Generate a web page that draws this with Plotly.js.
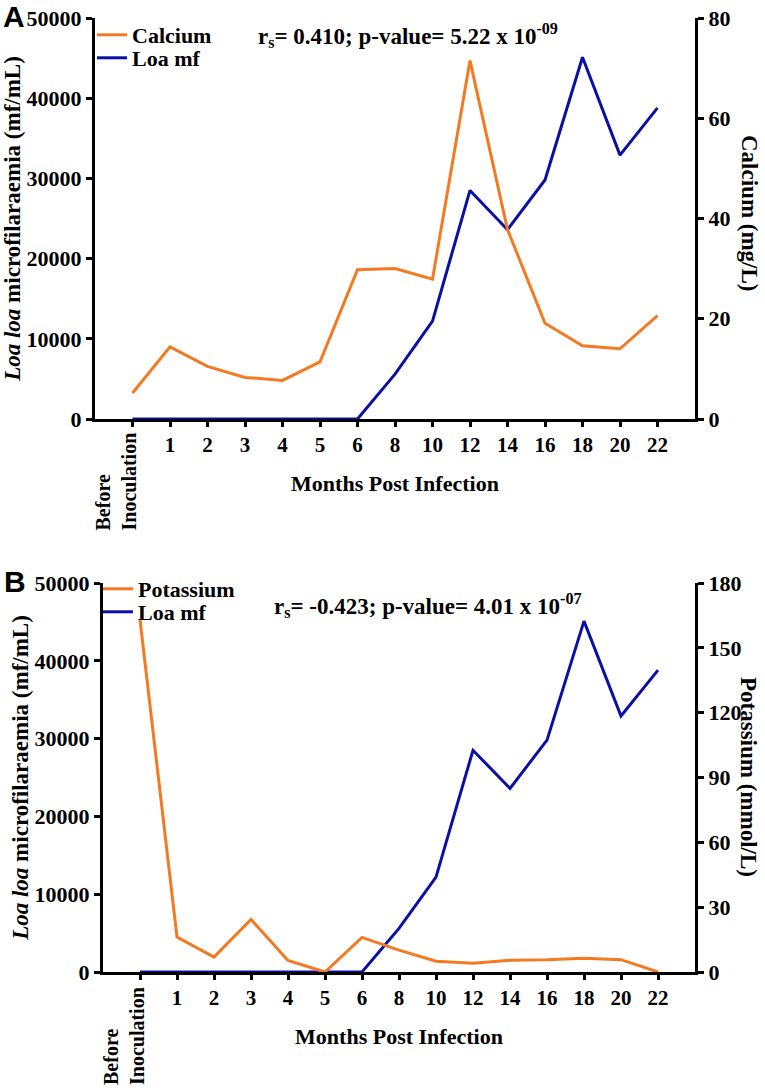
<!DOCTYPE html>
<html>
<head>
<meta charset="utf-8">
<script src="https://cdn.plot.ly/plotly-3.0.1.min.js"></script>
<style>
  html, body { margin: 0; padding: 0; background: #ffffff; }
  #chart { width: 765px; height: 1092px; }
</style>
</head>
<body>
<div id="chart"></div>
<script>
// ---------- data ----------
const months = ["Before Inoculation", "1", "2", "3", "4", "5", "6", "8", "10", "12", "14", "16", "18", "20", "22"];
const monthTickText = ["", "1", "2", "3", "4", "5", "6", "8", "10", "12", "14", "16", "18", "20", "22"];

// Panel A
const loaMfA = [0, 0, 0, 0, 0, 0, 0, 5600, 12200, 28500, 23600, 29800, 45100, 32900, 38800];
const calcium = [5.2, 14.4, 10.5, 8.3, 7.7, 11.4, 29.8, 30.0, 27.9, 71.5, 37.8, 19.1, 14.6, 14.0, 20.6];

// Panel B
const loaMfB = [0, 0, 0, 0, 0, 0, 0, 5600, 12200, 28500, 23600, 29800, 45100, 32900, 38800];
const potassium = [163, 16.2, 6.9, 24.3, 5.3, 0, 16.0, 10.1, 5.0, 4.0, 5.4, 5.7, 6.4, 5.7, 0];

const leftTicks = [0, 10000, 20000, 30000, 40000, 50000];
const leftTickText = ["0", "10000", "20000", "30000", "40000", "50000"];
const calciumTicks = [0, 20, 40, 60, 80];
const potassiumTicks = [0, 30, 60, 90, 120, 150, 180];

// ---------- styling ----------
const W = 765, H = 1092;
const SERIF = 'Liberation Serif, "Times New Roman", Times, serif';
const SANS = 'Liberation Sans, Arial, Helvetica, sans-serif';
const ORANGE = '#F47A22';
const BLUE = '#0A10A6';
const px = v => v / W;          // x pixel -> paper
const py = v => 1 - v / H;      // y pixel -> paper

const tickFont = { family: SERIF, size: 22, color: '#000', weight: 'bold' };
const titleFont = { family: SERIF, size: 22, color: '#000', weight: 'bold' };
const yTitleFont = { family: SERIF, size: 23, color: '#000', weight: 'bold' };
const legFont = { family: SERIF, size: 22, color: '#000', weight: 'bold' };
const statFont = { family: SERIF, size: 23, color: '#000', weight: 'bold' };

function yAxisBase(extra) {
  return Object.assign({
    showline: true, linewidth: 3, linecolor: '#000',
    ticks: 'outside', ticklen: 6, tickwidth: 3, tickcolor: '#000',
    showgrid: false, zeroline: false, tickfont: tickFont, fixedrange: true
  }, extra);
}
function xAxisBase(extra) {
  return Object.assign({
    type: 'category', categoryorder: 'array', categoryarray: months,
    range: [-1, 15], tickvals: months, ticktext: monthTickText, tickangle: 0,
    showline: true, linewidth: 3, linecolor: '#000',
    ticks: 'outside', ticklen: 5, tickwidth: 3, tickcolor: '#000',
    showgrid: false, zeroline: false, tickfont: { family: SERIF, size: 21, color: '#000', weight: 'bold' },
    fixedrange: true
  }, extra);
}

const traces = [
  { x: months, y: loaMfA, name: 'Loa mf', type: 'scatter', mode: 'lines',
    line: { color: BLUE, width: 3 }, xaxis: 'x', yaxis: 'y', legend: 'legend2' },
  { x: months, y: calcium, name: 'Calcium', type: 'scatter', mode: 'lines',
    line: { color: ORANGE, width: 3 }, xaxis: 'x', yaxis: 'y2', legend: 'legend' },
  { x: months, y: potassium, name: 'Potassium', type: 'scatter', mode: 'lines',
    line: { color: ORANGE, width: 3 }, xaxis: 'x2', yaxis: 'y4', legend: 'legend3' },
  { x: months, y: loaMfB, name: 'Loa mf', type: 'scatter', mode: 'lines',
    line: { color: BLUE, width: 3 }, xaxis: 'x2', yaxis: 'y3', legend: 'legend4' }
];

function legendAt(xPix, yPix) {
  return { x: px(xPix), y: py(yPix), xanchor: 'left', yanchor: 'middle',
    font: legFont, bgcolor: 'rgba(0,0,0,0)', borderwidth: 0, itemwidth: 30 };
}

const layout = {
  width: W, height: H,
  margin: { l: 0, r: 0, t: 0, b: 0 },
  paper_bgcolor: '#ffffff', plot_bgcolor: 'rgba(0,0,0,0)',
  showlegend: true,
  legend: legendAt(92, 35),
  legend2: legendAt(92, 58),
  legend3: legendAt(98, 589),
  legend4: legendAt(98, 612),

  // Panel A
  xaxis: xAxisBase({ domain: [px(95), px(695)], anchor: 'y',
    title: { text: 'Months Post Infection', font: titleFont, standoff: 20 } }),
  yaxis: yAxisBase({ domain: [py(419), py(18)], anchor: 'x', range: [0, 50000],
    tickvals: leftTicks, ticktext: leftTickText,
    title: { text: '<i>Loa loa</i> microfilaraemia (mf/mL)', font: yTitleFont, standoff: 0 } }),
  yaxis2: yAxisBase({ overlaying: 'y', side: 'right', anchor: 'x', range: [0, 80],
    tickvals: calciumTicks }),

  // Panel B
  xaxis2: xAxisBase({ domain: [px(103), px(695)], anchor: 'y3',
    title: { text: 'Months Post Infection', font: titleFont, standoff: 20 } }),
  yaxis3: yAxisBase({ domain: [py(972), py(583)], anchor: 'x2', range: [0, 50000],
    tickvals: leftTicks, ticktext: leftTickText,
    title: { text: '<i>Loa loa</i> microfilaraemia (mf/mL)', font: yTitleFont, standoff: 0 } }),
  yaxis4: yAxisBase({ overlaying: 'y3', side: 'right', anchor: 'x2', range: [0, 180],
    tickvals: potassiumTicks }),

  annotations: [
    // panel letters
    { text: 'A', xref: 'paper', yref: 'paper', x: px(14), y: py(17), xanchor: 'center', yanchor: 'middle',
      showarrow: false, font: { family: SANS, size: 30, color: '#000', weight: 'bold' } },
    { text: 'B', xref: 'paper', yref: 'paper', x: px(15), y: py(581), xanchor: 'center', yanchor: 'middle',
      showarrow: false, font: { family: SANS, size: 30, color: '#000', weight: 'bold' } },
    // statistics
    { text: 'r<sub>s</sub>= 0.410; p-value= 5.22 x 10<sup>-09</sup>', xref: 'paper', yref: 'paper',
      x: px(408), y: py(36), xanchor: 'center', yanchor: 'middle', showarrow: false, font: statFont },
    { text: 'r<sub>s</sub>= -0.423; p-value= 4.01 x 10<sup>-07</sup>', xref: 'paper', yref: 'paper',
      x: px(428), y: py(605), xanchor: 'center', yanchor: 'middle', showarrow: false, font: statFont },
    // right axis titles (reading top to bottom)
    { text: 'Calcium (mg/L)', xref: 'paper', yref: 'paper', x: px(749), y: py(213),
      xanchor: 'center', yanchor: 'middle', textangle: 90, showarrow: false, font: yTitleFont },
    { text: 'Potassium (mmol/L)', xref: 'paper', yref: 'paper', x: px(749), y: py(777),
      xanchor: 'center', yanchor: 'middle', textangle: 90, showarrow: false, font: yTitleFont },
    // first category label, two lines rotated
    { text: 'Before<br>Inoculation', xref: 'x', yref: 'paper', x: months[0], y: py(431),
      xanchor: 'center', yanchor: 'top', xshift: -17, textangle: -90, align: 'left',
      showarrow: false, font: { family: SERIF, size: 20, color: '#000', weight: 'bold' } },
    { text: 'Before<br>Inoculation', xref: 'x2', yref: 'paper', x: months[0], y: py(985),
      xanchor: 'center', yanchor: 'top', xshift: -16, textangle: -90, align: 'left',
      showarrow: false, font: { family: SERIF, size: 20, color: '#000', weight: 'bold' } }
  ]
};

Plotly.newPlot('chart', traces, layout, { displayModeBar: false, staticPlot: true });
</script>
</body>
</html>
